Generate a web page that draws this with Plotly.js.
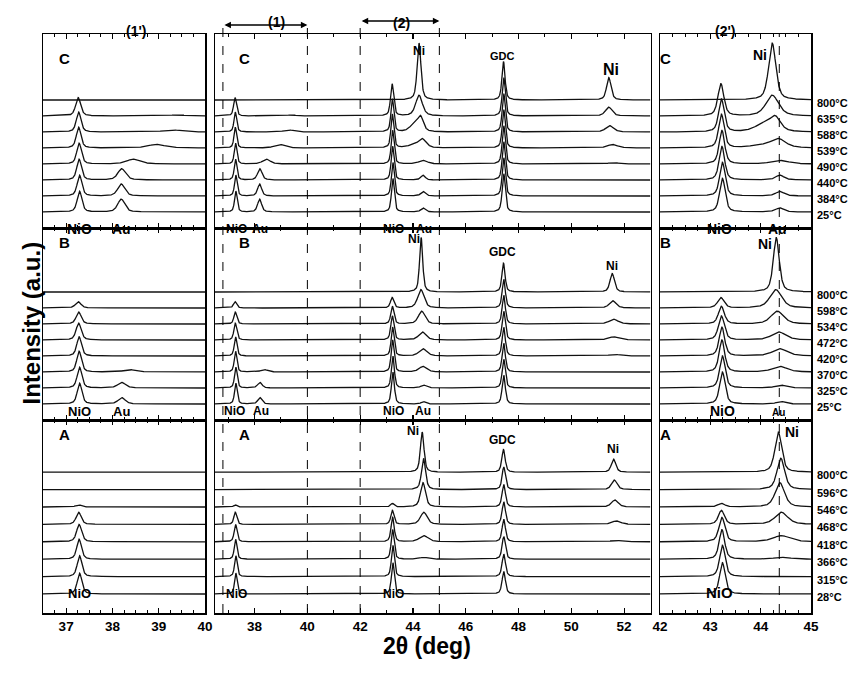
<!DOCTYPE html>
<html>
<head>
<meta charset="utf-8">
<script src="https://cdn.plot.ly/plotly-3.0.1.min.js"></script>
<style>
  body { margin: 0; background: #fff; }
  #chart { width: 851px; height: 678px; }
</style>
</head>
<body>
<div id="chart"></div>
<script>
// temperatures of the stacked patterns, bottom trace first
var tempsA = ['28°C', '315°C', '366°C', '418°C', '468°C', '546°C', '596°C', '800°C'];
var tempsB = ['25°C', '325°C', '370°C', '420°C', '472°C', '534°C', '598°C', '800°C'];
var tempsC = ['25°C', '384°C', '440°C', '490°C', '539°C', '588°C', '635°C', '800°C'];

// reflections: [2theta, height, fwhm] for each trace (bottom first)
// heights are in units of the stacking offset between two traces
var cNiO111 = [[37.29,1.3,0.12],[37.29,1.3,0.12],[37.28,1.3,0.12],[37.28,1.3,0.12],[37.27,1.3,0.12],[37.27,1.25,0.12],[37.26,1.15,0.13],null];
var cNiO200 = [[43.24,2.1,0.13],[43.24,2.1,0.13],[43.23,2.1,0.13],[43.23,2.1,0.13],[43.22,2.1,0.13],[43.22,2.05,0.13],[43.21,2.0,0.14],null];
var cAu111  = [[38.19,0.8,0.18],[38.19,0.75,0.18],[38.2,0.7,0.2],[38.45,0.3,0.35],[38.95,0.22,0.45],[39.3,0.13,0.45],[39.4,0.06,0.45],null];
var cAu200  = [[44.38,0.25,0.2],[44.38,0.28,0.2],[44.38,0.3,0.2],null,null,null,null,null];
var cNi111  = [null,null,null,[44.38,0.22,0.4],[44.35,0.55,0.35],[44.29,0.85,0.25],[44.23,1.3,0.3],[44.23,3.55,0.17]];
var cNiSh   = [null,null,null,null,[44.0,0.15,0.5],[44.05,0.45,0.4],null,null];
var cNi200  = [null,null,null,[51.6,0.08,0.5],[51.57,0.22,0.45],[51.45,0.4,0.35],[51.42,0.55,0.3],[51.42,1.4,0.2]];
var cGDC    = [[47.44,2.4,0.14],[47.44,2.4,0.14],[47.44,2.4,0.14],[47.44,2.4,0.14],[47.44,2.4,0.14],[47.44,2.4,0.14],[47.44,2.4,0.14],[47.43,2.4,0.14]];

var bNiO111 = [[37.29,1.3,0.12],[37.29,1.3,0.12],[37.28,1.3,0.12],[37.28,1.2,0.12],[37.27,1.05,0.13],[37.27,0.75,0.13],[37.26,0.4,0.14],null];
var bNiO200 = [[43.24,2.0,0.13],[43.24,2.0,0.13],[43.23,2.0,0.13],[43.23,1.8,0.13],[43.22,1.5,0.14],[43.22,1.1,0.14],[43.21,0.65,0.15],null];
var bAu111  = [[38.2,0.4,0.18],[38.2,0.35,0.2],[38.37,0.15,0.3],null,null,null,null,null];
var bAu200  = [[44.4,0.15,0.2],[44.4,0.18,0.25],null,null,null,null,null,null];
var bNi111  = [null,null,[44.38,0.35,0.35],[44.38,0.45,0.35],[44.36,0.5,0.33],[44.33,0.8,0.3],[44.3,1.15,0.28],[44.31,3.4,0.14]];
var bNi200  = [null,null,null,[51.65,0.1,0.5],[51.6,0.2,0.45],[51.6,0.3,0.4],[51.57,0.45,0.3],[51.55,1.15,0.2]];
var bGDC    = [[47.44,1.8,0.14],[47.44,1.8,0.14],[47.44,1.8,0.14],[47.44,1.8,0.14],[47.44,1.8,0.14],[47.44,1.8,0.14],[47.44,1.8,0.14],[47.43,1.8,0.14]];

var aNiO111 = [[37.29,1.2,0.12],[37.29,1.2,0.12],[37.28,1.15,0.12],[37.28,1.0,0.13],[37.27,0.7,0.13],[37.27,0.12,0.15],null,null];
var aNiO200 = [[43.24,1.8,0.13],[43.24,1.8,0.13],[43.23,1.7,0.13],[43.23,1.4,0.14],[43.22,0.8,0.14],[43.22,0.2,0.16],null,null];
var aNi111  = [null,null,[44.42,0.1,0.4],[44.41,0.35,0.4],[44.41,0.7,0.3],[44.38,1.4,0.22],[44.4,1.8,0.18],[44.35,2.3,0.16]];
var aNi200  = [null,null,null,[51.7,0.08,0.5],[51.7,0.2,0.4],[51.65,0.4,0.3],[51.63,0.55,0.25],[51.6,0.75,0.2]];
var aGDC    = [[47.44,1.3,0.15],[47.44,1.3,0.15],[47.44,1.3,0.15],[47.44,1.3,0.15],[47.44,1.3,0.15],[47.44,1.3,0.15],[47.44,1.3,0.15],[47.43,1.3,0.15]];

// three 2theta windows: (1'), full scan, (2')
var colRanges = [[36.5, 40], [36.5, 53], [42, 45]];

var W = 851, H = 678;
function fx(p) { return p / W; }
function fy(p) { return 1 - p / H; }

// panel geometry in pixels
var colPx = [[43, 205], [215, 650.5], [660, 811]];
var rows = [
  {name: 'C', temps: tempsC, peaks: [cNiO111, cNiO200, cAu111, cAu200, cNi111, cNiSh, cNi200, cGDC], top: 34, bottom: 228, base: 212, step: 16},
  {name: 'B', temps: tempsB, peaks: [bNiO111, bNiO200, bAu111, bAu200, bNi111, bNi200, bGDC], top: 228, bottom: 420, base: 404, step: 16},
  {name: 'A', temps: tempsA, peaks: [aNiO111, aNiO200, aNi111, aNi200, aGDC], top: 420, bottom: 613, base: 594, step: 17.4}
];

function intensity(x, i, peaks) {
  var y = 0;
  peaks.forEach(function (list) {
    var p = list[i];
    if (!p) return;
    var d = (x - p[0]) / (p[2] / 2);
    y += p[1] * (0.55 / (1 + d * d) + 0.45 * Math.exp(-Math.LN2 * d * d));
  });
  return y;
}

var FONT = 'Liberation Sans Narrow, Arial Narrow, Liberation Sans, Arial, sans-serif';
var data = [];
var layout = {
  width: W, height: H,
  margin: {l: 0, r: 0, t: 0, b: 0},
  paper_bgcolor: 'white', plot_bgcolor: 'white',
  showlegend: false,
  font: {family: FONT, color: 'black'},
  annotations: [], shapes: []
};

rows.forEach(function (row, r) {
  colRanges.forEach(function (rng, c) {
    var n = r * 3 + c + 1;
    var sfx = n === 1 ? '' : String(n);
    var stepX = c === 1 ? 0.008 : 0.004;
    var xs = [];
    for (var x = rng[0]; x <= rng[1] + 1e-9; x += stepX) xs.push(+x.toFixed(4));
    row.temps.forEach(function (t, i) {
      data.push({
        x: xs,
        y: xs.map(function (v) { return i + intensity(v, i, row.peaks); }),
        xaxis: 'x' + sfx, yaxis: 'y' + sfx,
        type: 'scatter', mode: 'lines',
        line: {color: '#111', width: 1.3},
        name: row.name + ' ' + t, hoverinfo: 'name'
      });
    });
    layout['xaxis' + sfx] = {
      domain: [fx(colPx[c][0]), fx(colPx[c][1])],
      anchor: 'y' + sfx,
      range: rng,
      tick0: c === 1 ? 38 : 37, dtick: c === 1 ? 2 : 1,
      ticks: 'inside', ticklen: 5, tickwidth: 1.2, tickcolor: 'black',
      minor: {dtick: c === 1 ? 1 : 0.25, ticks: 'inside', ticklen: 3, tickcolor: 'black', tickwidth: 1},
      showline: true, linecolor: 'black', linewidth: 1.5, mirror: 'ticks',
      showgrid: false, zeroline: false,
      showticklabels: r === 2,
      tickfont: {size: 13.5, weight: 'bold', family: FONT}
    };
    layout['yaxis' + sfx] = {
      domain: [fy(row.bottom), fy(row.top)],
      anchor: 'x' + sfx,
      range: [-(row.bottom - row.base) / row.step, (row.base - row.top) / row.step],
      showline: true, linecolor: 'black', linewidth: 1.5, mirror: true,
      ticks: '', showticklabels: false, showgrid: false, zeroline: false
    };
  });

  // temperature labels at the right of each pattern
  row.temps.forEach(function (t, i) {
    layout.annotations.push({
      text: '<b>' + t + '</b>', xref: 'paper', x: fx(815), xanchor: 'left',
      yref: 'y' + (r * 3 + 3), y: i, yshift: -3, yanchor: 'middle',
      showarrow: false, font: {size: 11}
    });
  });

  // sample letter in every panel
  [57, 237, 673].forEach(function (px) {
    layout.annotations.push({
      text: '<b>' + row.name + '</b>', xref: 'paper', yref: 'paper',
      x: fx(px), y: fy(row.top + 14), showarrow: false, font: {size: 15}
    });
  });
});

// phase labels: [text, panel, 2theta, pixel y, size]
var phaseLabels = [
  ['NiO', 1, 37.28, 219, 14], ['Au', 1, 38.2, 219, 14],
  ['NiO', 2, 37.32, 220, 12], ['Au', 2, 38.22, 220, 12], ['NiO', 2, 43.25, 220, 12], ['Au', 2, 44.4, 220, 12],
  ['Ni', 2, 44.22, 42, 12], ['GDC', 2, 47.38, 48, 11], ['Ni', 2, 51.5, 59, 16],
  ['NiO', 3, 43.19, 219, 14], ['Au', 3, 44.33, 219, 14], ['Ni', 3, 43.99, 45, 14],

  ['NiO', 4, 37.28, 411, 13], ['Au', 4, 38.2, 411, 13],
  ['NiO', 5, 37.24, 411, 12], ['Au', 5, 38.26, 411, 12], ['NiO', 5, 43.26, 411, 12], ['Au', 5, 44.38, 411, 12],
  ['Ni', 5, 44.05, 239, 12], ['GDC', 5, 47.41, 252, 12], ['Ni', 5, 51.53, 266, 12],
  ['NiO', 6, 43.25, 411, 14], ['Au', 6, 44.35, 412, 10], ['Ni', 6, 44.09, 244, 14],

  ['NiO', 7, 37.28, 603, 13],
  ['NiO', 8, 37.32, 603, 12], ['NiO', 8, 43.26, 603, 12],
  ['Ni', 8, 44.0, 431, 12], ['GDC', 8, 47.4, 440, 12], ['Ni', 8, 51.57, 449, 12],
  ['NiO', 9, 43.19, 603, 15], ['Ni', 9, 44.62, 432, 14]
];
phaseLabels.forEach(function (p) {
  layout.annotations.push({
    text: '<b>' + p[0] + '</b>', xref: 'x' + (p[1] === 1 ? '' : p[1]), x: p[2],
    yref: 'paper', y: fy(p[3]), showarrow: false, font: {size: p[4]}
  });
});

// dashed limits of regions (1) and (2) in the full scan, and of Au in (2')
[[36.8, 25], [40, 25], [42, 21], [45, 21]].forEach(function (d) {
  layout.shapes.push({type: 'line', xref: 'x2', yref: 'paper', x0: d[0], x1: d[0],
    y0: fy(613), y1: fy(d[1]), line: {color: 'black', width: 1, dash: 'dash'}});
});
layout.shapes.push({type: 'line', xref: 'x3', yref: 'paper', x0: 44.37, x1: 44.37,
  y0: fy(613), y1: fy(34), line: {color: 'black', width: 1, dash: 'dash'}});

// double arrows over the full scan
[[36.8, 40, 25], [42, 45, 21]].forEach(function (a) {
  layout.annotations.push({
    text: '', xref: 'x2', yref: 'paper', x: a[1], y: fy(a[2]),
    axref: 'x2', ax: a[0], ayref: 'pixel', ay: 0,
    showarrow: true, arrowside: 'end+start', arrowhead: 2, arrowsize: 1, arrowwidth: 1.3, arrowcolor: 'black'
  });
});

// region titles
[['(1\')', 124, 21], ['(1)', 266, 12], ['(2)', 401, 13], ['(2\')', 737, 21]].forEach(function (t) {
  layout.annotations.push({text: '<b>' + t[0] + '</b>', xref: 'paper', yref: 'paper',
    x: fx(t[1]), y: fy(t[2]), showarrow: false, font: {size: 14}});
});

// axis titles
layout.annotations.push({text: '<b>Intensity (a.u.)</b>', xref: 'paper', yref: 'paper',
  x: fx(15), y: fy(323), textangle: -90, showarrow: false, font: {size: 24}});
layout.annotations.push({text: '<b>2θ (deg)</b>', xref: 'paper', yref: 'paper',
  x: fx(427), y: fy(661), showarrow: false, font: {size: 23}});

Plotly.newPlot('chart', data, layout, {staticPlot: true});
</script>
</body>
</html>
